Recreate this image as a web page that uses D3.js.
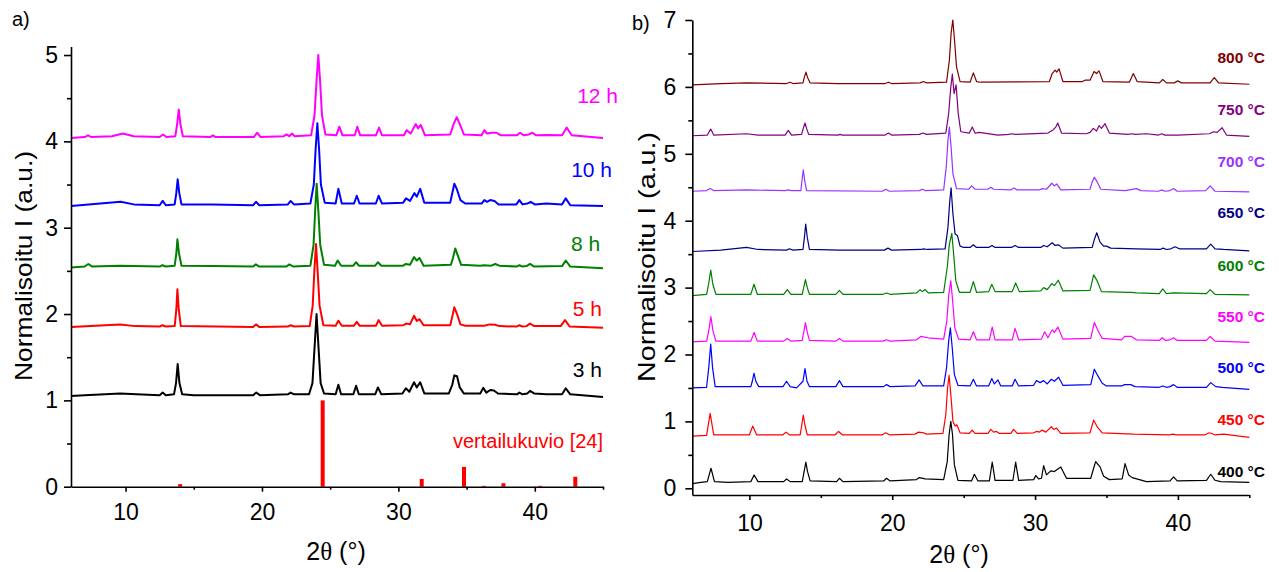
<!DOCTYPE html>
<html>
<head>
<meta charset="utf-8">
<script src="https://cdn.jsdelivr.net/npm/d3@7"></script>
<style>
  body { margin: 0; background: #fff; }
  svg { display: block; font-family: 'Liberation Sans', Arial, sans-serif; }
</style>
</head>
<body>
<div id="chart"></div>
<script>
// ---- panel a: synthesis time, [2theta, normalised I] ----
const time3h = [[6,1.05],[7,1.06],[8.5,1.07],[9.6,1.08],[10.8,1.07],[12.5,1.06],[12.72,1.09],[12.95,1.06],[13.55,1.07],[13.7,1.2],[13.82,1.42],[13.95,1.2],[14.15,1.07],[15,1.06],[17,1.06],[19.35,1.06],[19.58,1.09],[19.85,1.06],[21.9,1.07],[22.1,1.09],[22.35,1.07],[23.45,1.07],[23.7,1.2],[23.85,1.6],[24.0,2.0],[24.15,1.6],[24.3,1.2],[24.55,1.08],[25.4,1.07],[25.6,1.18],[25.8,1.07],[26.7,1.07],[26.9,1.17],[27.1,1.07],[28.3,1.07],[28.5,1.15],[28.75,1.07],[30.3,1.08],[30.55,1.14],[30.8,1.1],[31.15,1.21],[31.35,1.15],[31.6,1.21],[31.9,1.08],[33.7,1.08],[33.95,1.18],[34.1,1.29],[34.3,1.28],[34.5,1.15],[34.8,1.08],[36.0,1.08],[36.22,1.145],[36.45,1.09],[36.73,1.12],[37.0,1.115],[37.3,1.08],[38.7,1.07],[38.87,1.09],[39.1,1.07],[39.45,1.08],[39.65,1.11],[39.95,1.08],[40.85,1.07],[42.0,1.07],[42.27,1.14],[42.6,1.07],[45,1.04]];
const time5h = [[6,1.85],[9.6,1.88],[10.7,1.86],[12.5,1.855],[12.7,1.87],[12.95,1.855],[13.6,1.86],[13.72,2.05],[13.8,2.286],[13.9,2.05],[14.05,1.86],[19.35,1.85],[19.56,1.88],[19.8,1.85],[21.9,1.855],[22.1,1.87],[22.35,1.855],[23.5,1.86],[23.72,2.1],[23.84,2.5],[23.96,2.81],[24.08,2.5],[24.22,2.1],[24.5,1.87],[25.4,1.865],[25.6,1.923],[25.85,1.865],[26.75,1.865],[26.95,1.91],[27.15,1.865],[28.35,1.865],[28.55,1.93],[28.8,1.865],[30.35,1.87],[30.56,1.89],[30.85,1.88],[31.15,1.98],[31.35,1.92],[31.55,1.94],[31.85,1.87],[33.8,1.87],[33.95,1.97],[34.1,2.078],[34.3,2.0],[34.55,1.88],[34.9,1.865],[36.3,1.865],[36.7,1.88],[37.1,1.875],[37.4,1.86],[38.65,1.855],[38.87,1.87],[39.1,1.855],[39.4,1.86],[39.65,1.89],[39.95,1.86],[41.9,1.86],[42.22,1.93],[42.55,1.855],[45,1.84]];
const time8h = [[6,2.54],[7.0,2.55],[7.27,2.58],[7.55,2.55],[9.6,2.56],[12.5,2.55],[12.7,2.565],[12.95,2.55],[13.6,2.56],[13.72,2.7],[13.8,2.865],[13.92,2.7],[14.1,2.56],[16.3,2.555],[19.35,2.55],[19.55,2.575],[19.8,2.55],[21.8,2.55],[22.0,2.575],[22.3,2.55],[23.55,2.56],[23.78,2.8],[23.9,3.2],[24.01,3.51],[24.13,3.2],[24.27,2.8],[24.55,2.57],[25.35,2.56],[25.55,2.62],[25.8,2.56],[26.7,2.56],[26.9,2.6],[27.1,2.56],[28.3,2.56],[28.5,2.6],[28.75,2.56],[30.35,2.56],[30.55,2.58],[30.85,2.57],[31.15,2.66],[31.35,2.62],[31.55,2.65],[31.85,2.56],[33.85,2.57],[34.0,2.65],[34.17,2.76],[34.35,2.68],[34.6,2.57],[36.0,2.56],[36.27,2.565],[36.8,2.56],[37.1,2.58],[37.4,2.56],[38.65,2.55],[38.87,2.565],[39.1,2.55],[39.4,2.555],[39.65,2.58],[39.95,2.55],[42.0,2.555],[42.27,2.62],[42.6,2.55],[45,2.53]];
const time10h = [[6,3.25],[9.64,3.3],[10.6,3.27],[12.5,3.26],[12.72,3.31],[12.95,3.26],[13.6,3.27],[13.72,3.4],[13.82,3.56],[13.94,3.4],[14.1,3.27],[16.35,3.27],[19.35,3.26],[19.56,3.3],[19.8,3.26],[21.9,3.27],[22.1,3.31],[22.35,3.27],[23.55,3.28],[23.8,3.5],[23.93,3.9],[24.06,4.21],[24.19,3.9],[24.32,3.5],[24.6,3.29],[25.4,3.28],[25.6,3.45],[25.85,3.28],[26.75,3.28],[26.95,3.37],[27.15,3.28],[28.35,3.28],[28.55,3.37],[28.8,3.28],[30.35,3.29],[30.56,3.34],[30.85,3.31],[31.17,3.4],[31.35,3.36],[31.6,3.45],[31.9,3.29],[33.8,3.29],[33.95,3.4],[34.1,3.51],[34.3,3.44],[34.55,3.32],[34.9,3.28],[36.1,3.28],[36.3,3.32],[36.5,3.3],[36.73,3.32],[37.05,3.31],[37.35,3.27],[38.65,3.27],[38.87,3.32],[39.1,3.27],[39.45,3.28],[39.7,3.3],[40.0,3.27],[40.85,3.28],[42.0,3.27],[42.27,3.34],[42.6,3.26],[45,3.25]];
const time12h = [[6,4.04],[7.0,4.05],[7.25,4.07],[7.5,4.05],[9.0,4.06],[9.8,4.09],[10.6,4.06],[12.5,4.05],[12.75,4.08],[13.0,4.05],[13.65,4.06],[13.78,4.2],[13.9,4.37],[14.02,4.2],[14.2,4.06],[16.2,4.05],[16.4,4.07],[16.6,4.05],[19.4,4.05],[19.65,4.1],[19.9,4.05],[21.6,4.06],[21.8,4.08],[22.0,4.06],[22.2,4.09],[22.4,4.06],[23.6,4.07],[23.85,4.3],[24.0,4.7],[24.13,5.0],[24.26,4.7],[24.4,4.3],[24.65,4.08],[25.45,4.07],[25.67,4.17],[25.9,4.07],[26.8,4.07],[26.99,4.17],[27.2,4.07],[28.35,4.07],[28.58,4.16],[28.8,4.07],[30.4,4.07],[30.61,4.13],[30.9,4.09],[31.27,4.2],[31.45,4.15],[31.64,4.19],[31.95,4.07],[33.8,4.08],[34.05,4.2],[34.28,4.28],[34.5,4.2],[34.8,4.08],[36.1,4.07],[36.3,4.13],[36.5,4.09],[36.85,4.1],[37.2,4.1],[37.5,4.07],[38.7,4.07],[38.92,4.1],[39.2,4.07],[39.55,4.08],[39.82,4.1],[40.1,4.07],[40.85,4.075],[42.0,4.07],[42.34,4.16],[42.7,4.07],[45,4.04]];

const timeSeries = [time3h, time5h, time8h, time10h, time12h];
const timeLabels = ['3 h', '5 h', '8 h', '10 h', '12 h'];
const timeLabelAt = [[44.93, 1.27], [44.93, 1.975], [44.8, 2.73], [45.66, 3.585], [46.1, 4.44]];

// reference pattern sticks
const refPos = [14.0, 24.45, 31.71, 34.81, 36.26, 37.7, 40.4, 42.97];
const refInt = [0.03, 1.0, 0.09, 0.23, 0.01, 0.04, 0.01, 0.115];
const refLabel = 'vertailukuvio [24]';
const refLabelAt = [45.0, 0.448];

// ---- panel b: calcination temperature ----
const temp400 = [[6,0.07],[6.6,0.09],[7.05,0.1],[7.31,0.3],[7.55,0.1],[8.5,0.09],[10.1,0.1],[10.33,0.2],[10.6,0.1],[12.4,0.1],[12.6,0.14],[12.85,0.1],[13.7,0.1],[13.83,0.25],[13.95,0.39],[14.07,0.25],[14.25,0.11],[16.1,0.1],[16.3,0.15],[16.55,0.1],[19.4,0.11],[19.6,0.15],[19.85,0.11],[21.7,0.13],[21.9,0.16],[22.3,0.14],[23.6,0.13],[23.85,0.4],[23.98,0.8],[24.1,1.0],[24.22,0.8],[24.35,0.35],[24.6,0.12],[25.55,0.11],[25.75,0.21],[26.0,0.11],[26.8,0.11],[27.0,0.39],[27.2,0.12],[28.45,0.12],[28.64,0.39],[28.85,0.12],[29.9,0.13],[30.05,0.19],[30.25,0.14],[30.45,0.15],[30.6,0.34],[30.8,0.2],[31.1,0.26],[31.35,0.25],[31.8,0.32],[32.2,0.15],[33.9,0.15],[34.1,0.3],[34.24,0.4],[34.55,0.32],[34.8,0.18],[35.2,0.13],[36.1,0.14],[36.3,0.37],[36.55,0.2],[36.8,0.16],[37.8,0.1],[39.45,0.11],[39.7,0.17],[39.95,0.11],[42.0,0.12],[42.3,0.21],[42.6,0.12],[43.0,0.1],[45,0.09]];
const temp450 = [[6,0.78],[7.0,0.79],[7.25,1.12],[7.5,0.8],[10.0,0.8],[10.23,0.93],[10.5,0.8],[12.35,0.8],[12.56,0.84],[12.8,0.8],[13.55,0.8],[13.67,0.95],[13.77,1.096],[13.88,0.95],[14.05,0.8],[16.0,0.8],[16.24,0.85],[16.5,0.8],[19.3,0.8],[19.54,0.83],[19.8,0.8],[21.6,0.81],[21.84,0.84],[22.2,0.83],[22.4,0.81],[23.55,0.82],[23.75,1.1],[23.87,1.5],[23.98,1.69],[24.1,1.4],[24.25,1.0],[24.4,0.93],[24.52,0.95],[24.75,0.83],[25.4,0.82],[25.6,0.87],[25.8,0.82],[26.7,0.82],[26.9,0.88],[27.1,0.84],[27.3,0.85],[27.5,0.82],[28.3,0.82],[28.5,0.88],[28.75,0.82],[29.9,0.83],[30.1,0.85],[30.3,0.84],[30.5,0.87],[30.75,0.84],[31.14,0.92],[31.3,0.88],[31.5,0.9],[31.8,0.82],[33.85,0.83],[34.1,1.02],[34.35,0.92],[34.7,0.83],[36.9,0.81],[39.4,0.8],[39.65,0.81],[39.9,0.8],[41.9,0.8],[42.2,0.83],[42.6,0.8],[43.2,0.81],[45,0.76]];
const temp500 = [[6,1.5],[7.0,1.51],[7.15,1.8],[7.29,2.157],[7.42,1.8],[7.6,1.52],[10.1,1.52],[10.2,1.6],[10.32,1.72],[10.45,1.6],[10.65,1.52],[12.35,1.52],[12.6,1.6],[12.85,1.52],[13.3,1.5],[13.75,1.6],[13.89,1.79],[14.03,1.6],[14.2,1.52],[16.05,1.52],[16.3,1.61],[16.55,1.52],[19.4,1.52],[19.6,1.55],[19.85,1.52],[21.6,1.53],[21.88,1.62],[22.15,1.53],[23.6,1.53],[23.8,1.8],[23.95,2.2],[24.07,2.4],[24.2,2.1],[24.35,1.7],[24.6,1.54],[25.45,1.53],[25.68,1.63],[25.9,1.53],[26.75,1.53],[26.97,1.64],[27.15,1.56],[27.4,1.62],[27.6,1.53],[28.4,1.53],[28.6,1.63],[28.85,1.53],[29.9,1.54],[30.1,1.61],[30.35,1.58],[30.6,1.61],[30.85,1.56],[31.14,1.63],[31.35,1.6],[31.65,1.66],[31.95,1.54],[33.9,1.55],[34.15,1.78],[34.4,1.68],[34.7,1.57],[35.0,1.53],[36.05,1.53],[36.27,1.55],[36.7,1.55],[37.0,1.52],[38.7,1.51],[38.94,1.53],[39.2,1.51],[39.45,1.52],[39.7,1.55],[39.95,1.51],[42.0,1.51],[42.3,1.58],[42.65,1.52],[43.1,1.51],[45,1.48]];
const temp550 = [[6,2.19],[7.0,2.2],[7.15,2.35],[7.3,2.565],[7.45,2.35],[7.65,2.2],[10.1,2.2],[10.33,2.33],[10.55,2.2],[12.4,2.2],[12.65,2.24],[12.9,2.2],[13.7,2.21],[13.8,2.33],[13.92,2.475],[14.05,2.33],[14.2,2.21],[16.05,2.2],[16.3,2.24],[16.55,2.2],[19.35,2.2],[19.6,2.22],[19.85,2.2],[21.7,2.22],[22.0,2.27],[22.5,2.25],[23.6,2.23],[23.82,2.5],[23.96,2.9],[24.1,3.1],[24.23,2.8],[24.38,2.4],[24.65,2.23],[25.45,2.22],[25.68,2.34],[25.9,2.22],[26.8,2.22],[27.0,2.41],[27.2,2.22],[28.4,2.22],[28.6,2.39],[28.85,2.22],[30.45,2.23],[30.67,2.34],[30.9,2.25],[31.2,2.37],[31.35,2.33],[31.6,2.41],[31.95,2.23],[33.9,2.24],[34.15,2.48],[34.4,2.36],[34.7,2.24],[36.05,2.22],[36.27,2.27],[36.75,2.27],[37.1,2.22],[38.7,2.21],[38.9,2.25],[39.15,2.21],[39.45,2.22],[39.7,2.25],[39.95,2.21],[42.0,2.21],[42.26,2.27],[42.6,2.2],[45,2.18]];
const temp600 = [[6,2.88],[7.0,2.9],[7.14,3.05],[7.29,3.26],[7.44,3.05],[7.65,2.9],[10.1,2.9],[10.32,3.05],[10.55,2.9],[12.4,2.9],[12.65,2.97],[12.9,2.9],[13.7,2.9],[13.8,3.0],[13.92,3.12],[14.05,3.0],[14.2,2.9],[16.05,2.9],[16.3,2.96],[16.55,2.9],[19.35,2.9],[19.6,2.92],[19.85,2.9],[21.7,2.92],[21.95,2.97],[22.1,2.94],[22.3,2.97],[22.55,2.92],[23.6,2.93],[23.85,3.3],[24.0,3.65],[24.17,3.81],[24.3,3.5],[24.45,3.1],[24.7,2.93],[25.45,2.93],[25.68,3.09],[25.9,2.93],[26.75,2.94],[26.97,3.05],[27.2,2.94],[28.4,2.94],[28.64,3.07],[28.9,2.94],[30.4,2.95],[30.6,3.0],[30.85,2.97],[31.17,3.06],[31.35,3.03],[31.63,3.11],[31.95,2.95],[33.85,2.96],[34.1,3.19],[34.35,3.1],[34.65,2.94],[36.5,2.93],[36.77,2.93],[37.1,2.92],[38.7,2.91],[38.94,2.98],[39.2,2.91],[39.7,2.92],[42.0,2.91],[42.26,2.97],[42.6,2.9],[45,2.89]];
const temp650 = [[6,3.54],[8,3.56],[9.8,3.6],[10.6,3.57],[12.6,3.56],[12.8,3.58],[13.05,3.56],[13.75,3.57],[13.85,3.75],[13.94,3.95],[14.05,3.75],[14.2,3.57],[16.3,3.56],[19.45,3.56],[19.7,3.59],[19.95,3.56],[22.0,3.57],[22.2,3.58],[22.45,3.57],[23.7,3.58],[23.9,3.9],[24.03,4.3],[24.12,4.49],[24.25,4.1],[24.4,3.8],[24.56,3.78],[24.75,3.62],[25.0,3.6],[25.45,3.6],[25.68,3.64],[25.9,3.6],[26.75,3.6],[26.98,3.63],[27.2,3.6],[28.35,3.6],[28.6,3.63],[28.85,3.6],[30.4,3.6],[30.6,3.63],[30.85,3.61],[31.2,3.67],[31.4,3.63],[31.63,3.64],[31.95,3.59],[34.0,3.6],[34.15,3.72],[34.32,3.82],[34.55,3.68],[34.8,3.62],[35.0,3.62],[35.3,3.59],[37.1,3.58],[38.75,3.57],[38.97,3.59],[39.2,3.57],[39.5,3.58],[39.8,3.61],[40.1,3.58],[42.0,3.58],[42.3,3.65],[42.6,3.58],[43.2,3.57],[45,3.55]];
const temp700 = [[6,4.44],[7.0,4.45],[7.25,4.48],[7.5,4.45],[9.8,4.46],[12.5,4.45],[12.72,4.46],[12.95,4.45],[13.6,4.45],[13.68,4.6],[13.77,4.76],[13.87,4.6],[14.0,4.45],[19.3,4.44],[19.54,4.47],[19.8,4.44],[21.9,4.45],[22.1,4.47],[22.35,4.45],[23.6,4.46],[23.78,4.8],[23.9,5.2],[24.0,5.4],[24.12,5.1],[24.25,4.7],[24.5,4.48],[25.35,4.47],[25.56,4.52],[25.8,4.47],[26.7,4.47],[26.9,4.5],[27.1,4.47],[28.3,4.46],[28.53,4.49],[28.75,4.46],[30.3,4.46],[30.51,4.48],[30.8,4.47],[31.17,4.56],[31.35,4.52],[31.52,4.55],[31.8,4.46],[33.85,4.47],[34.0,4.58],[34.15,4.65],[34.35,4.58],[34.6,4.47],[36.3,4.45],[37.1,4.48],[37.4,4.45],[38.65,4.44],[38.85,4.46],[39.1,4.44],[39.45,4.45],[39.7,4.48],[39.95,4.44],[41.95,4.45],[42.26,4.52],[42.6,4.44],[45,4.43]];
const temp750 = [[6,5.27],[7.05,5.28],[7.29,5.37],[7.5,5.28],[9.8,5.3],[10.6,5.28],[12.5,5.28],[12.72,5.35],[12.95,5.28],[13.65,5.29],[13.77,5.38],[13.89,5.46],[14.0,5.38],[14.15,5.29],[16.2,5.28],[16.34,5.29],[16.5,5.28],[19.5,5.28],[19.73,5.31],[19.95,5.28],[21.9,5.29],[22.15,5.31],[22.4,5.29],[23.75,5.31],[23.95,5.6],[24.1,6.0],[24.21,6.19],[24.33,5.9],[24.47,6.03],[24.62,5.6],[24.8,5.33],[25.4,5.31],[25.6,5.4],[25.8,5.31],[26.1,5.32],[27.4,5.28],[28.15,5.29],[28.37,5.3],[28.6,5.29],[30.9,5.31],[31.28,5.36],[31.45,5.4],[31.59,5.46],[31.85,5.31],[33.6,5.3],[33.85,5.32],[34.08,5.38],[34.3,5.34],[34.48,5.42],[34.65,5.38],[34.9,5.45],[35.2,5.31],[36.5,5.29],[36.77,5.3],[37.0,5.29],[37.82,5.3],[38.65,5.28],[38.87,5.3],[39.1,5.28],[40.0,5.28],[42.2,5.3],[42.5,5.33],[42.75,5.32],[43.1,5.39],[43.4,5.28],[45,5.26]];
const temp800 = [[6,6.03],[8,6.05],[9.81,6.06],[12.6,6.05],[12.84,6.07],[13.05,6.05],[13.75,6.06],[13.85,6.15],[13.96,6.22],[14.07,6.14],[14.25,6.06],[16.2,6.05],[19.5,6.05],[19.73,6.07],[19.95,6.05],[21.95,6.06],[22.18,6.08],[22.4,6.06],[23.8,6.07],[24.0,6.4],[24.12,6.8],[24.24,7.0],[24.36,6.7],[24.5,6.3],[24.75,6.08],[25.45,6.07],[25.68,6.21],[25.9,6.08],[26.2,6.07],[31.0,6.08],[31.2,6.2],[31.4,6.25],[31.52,6.22],[31.68,6.27],[31.95,6.08],[33.3,6.08],[33.5,6.1],[33.85,6.1],[34.13,6.23],[34.3,6.2],[34.48,6.24],[34.75,6.08],[36.6,6.07],[36.88,6.2],[37.15,6.08],[38.7,6.06],[38.94,6.11],[39.2,6.06],[39.75,6.06],[39.99,6.09],[40.25,6.06],[42.25,6.06],[42.55,6.14],[42.85,6.06],[45,6.04]];

const tempSeries = [temp400, temp450, temp500, temp550, temp600, temp650, temp700, temp750, temp800];
const tempLabels = ['400 °C', '450 °C', '500 °C', '550 °C', '600 °C', '650 °C', '700 °C', '750 °C', '800 °C'];
const tempLabelAt = [[46.1, 0.17], [46.1, 0.95], [46.1, 1.73], [46.1, 2.49], [46.1, 3.25], [46.1, 4.04], [46.1, 4.8], [46.1, 5.58], [46.1, 6.357]];

// ticks
const xTicks = [10, 20, 30, 40];
const xMinor = [15, 25, 35, 45];
const yTicksA = [0, 1, 2, 3, 4, 5];
const yMinorA = [0.5, 1.5, 2.5, 3.5, 4.5];
const yTicksB = [0, 1, 2, 3, 4, 5, 6, 7];
const yMinorB = [0.5, 1.5, 2.5, 3.5, 4.5, 5.5, 6.5];

// styles
const timeColors = ['#000000', '#ff0000', '#008000', '#0000ff', '#ff00ff'];
const tempColors = ['#000000', '#ff0000', '#0000ff', '#ff00ff', '#008000', '#000080', '#9933ff', '#800080', '#800000'];

const svg = d3.select('#chart')
  .append('svg')
  .attr('width', 1279)
  .attr('height', 572);

svg.append('rect').attr('width', 1279).attr('height', 572).attr('fill', '#fff');

function axes(g, x, y, o) {
  const y0 = y.range()[0];
  const x0 = x.range()[0];

  const xa = g.append('g')
    .attr('transform', `translate(0,${y0})`)
    .call(d3.axisBottom(x).tickValues(xTicks).tickSize(5).tickSizeOuter(0)
      .tickPadding(o.xPad).tickFormat(d3.format('d')));
  g.append('g')
    .attr('transform', `translate(0,${y0})`)
    .call(d3.axisBottom(x).tickValues(xMinor).tickSize(3).tickFormat(''))
    .select('.domain').remove();

  const ya = g.append('g')
    .attr('transform', `translate(${x0},0)`)
    .call(d3.axisLeft(y).tickValues(o.yTicks).tickSize(7).tickSizeOuter(0)
      .tickPadding(o.yPad).tickFormat(d3.format('d')));
  g.append('g')
    .attr('transform', `translate(${x0},0)`)
    .call(d3.axisLeft(y).tickValues(o.yMinor).tickSize(4).tickFormat(''))
    .select('.domain').remove();

  g.selectAll('.domain, .tick line').attr('stroke', '#000').attr('stroke-width', 1.6);
  [xa, ya].forEach((a) => a.selectAll('text')
    .attr('fill', '#000')
    .style('font-family', "'Liberation Sans', Arial, sans-serif")
    .style('font-size', '23px'));

  // y title
  g.append('text')
    .attr('transform', `translate(${o.yTitleX},${o.yTitleY}) rotate(-90)`)
    .attr('text-anchor', 'middle')
    .attr('textLength', o.yTitleLen)
    .attr('lengthAdjust', 'spacingAndGlyphs')
    .style('font-size', '24px')
    .text('Normalisoitu I (a.u.)');

  // x title
  const xt = g.append('text')
    .attr('x', o.xTitleX)
    .attr('y', o.xTitleY)
    .attr('text-anchor', 'middle')
    .style('font-size', '25px');
  xt.append('tspan').text('2');
  xt.append('tspan').style('font-family', "'Liberation Serif', serif").text('θ');
  xt.append('tspan').text(' (°)');
}

// ---- panel a ----
const gA = svg.append('g');
const xA = d3.scaleLinear().domain([6, 45]).range([71, 603]);
const yA = d3.scaleLinear().domain([0, 5.1]).range([486.7, 46.4]);

const lineA = d3.line().x((d) => xA(d[0])).y((d) => yA(d[1]));

// upper traces first so lower ones sit on top
for (let i = timeSeries.length - 1; i >= 0; i--) {
  gA.append('path')
    .datum(timeSeries[i])
    .attr('d', lineA)
    .attr('fill', 'none')
    .attr('stroke', timeColors[i])
    .attr('stroke-width', 2)
    .attr('stroke-linejoin', 'round');
}

gA.selectAll('rect.ref')
  .data(refPos)
  .enter()
  .append('rect')
  .attr('class', 'ref')
  .attr('x', (d) => xA(d) - 2)
  .attr('width', 4)
  .attr('y', (d, i) => yA(refInt[i]))
  .attr('height', (d, i) => yA(0) - yA(refInt[i]))
  .attr('fill', '#ff0000');

axes(gA, xA, yA, {
  yTicks: yTicksA, yMinor: yMinorA, xPad: 12, yPad: 6,
  yTitleX: 32, yTitleY: 266, yTitleLen: 230,
  xTitleX: 336, xTitleY: 560
});

gA.selectAll('text.lab')
  .data(timeLabels)
  .enter()
  .append('text')
  .attr('class', 'lab')
  .attr('x', (d, i) => xA(timeLabelAt[i][0]))
  .attr('y', (d, i) => yA(timeLabelAt[i][1]))
  .attr('text-anchor', 'end')
  .attr('fill', (d, i) => timeColors[i])
  .style('font-size', '21px')
  .text((d) => d);

gA.append('text')
  .attr('x', xA(refLabelAt[0]))
  .attr('y', yA(refLabelAt[1]))
  .attr('text-anchor', 'end')
  .attr('fill', '#ff0000')
  .style('font-size', '20px')
  .text(refLabel);

svg.append('text').attr('x', 12).attr('y', 26).style('font-size', '20px').text('a)');

// ---- panel b ----
const gB = svg.append('g');
const xB = d3.scaleLinear().domain([6, 45]).range([692.3, 1249.3]);
const yB = d3.scaleLinear().domain([-0.1, 7]).range([495, 20]);

const lineB = d3.line().x((d) => xB(d[0])).y((d) => yB(d[1]));

for (let i = tempSeries.length - 1; i >= 0; i--) {
  gB.append('path')
    .datum(tempSeries[i])
    .attr('d', lineB)
    .attr('fill', 'none')
    .attr('stroke', tempColors[i])
    .attr('stroke-width', 1.2)
    .attr('stroke-linejoin', 'round');
}

axes(gB, xB, yB, {
  yTicks: yTicksB, yMinor: yMinorB, xPad: 15, yPad: 9,
  yTitleX: 655, yTitleY: 257, yTitleLen: 250,
  xTitleX: 959, xTitleY: 563
});

gB.selectAll('text.lab')
  .data(tempLabels)
  .enter()
  .append('text')
  .attr('class', 'lab')
  .attr('x', (d, i) => xB(tempLabelAt[i][0]))
  .attr('y', (d, i) => yB(tempLabelAt[i][1]))
  .attr('text-anchor', 'end')
  .attr('fill', (d, i) => tempColors[i])
  .style('font-size', '15.5px')
  .style('font-weight', 'bold')
  .text((d) => d);

svg.append('text').attr('x', 632).attr('y', 30).style('font-size', '20px').text('b)');
</script>
</body>
</html>
